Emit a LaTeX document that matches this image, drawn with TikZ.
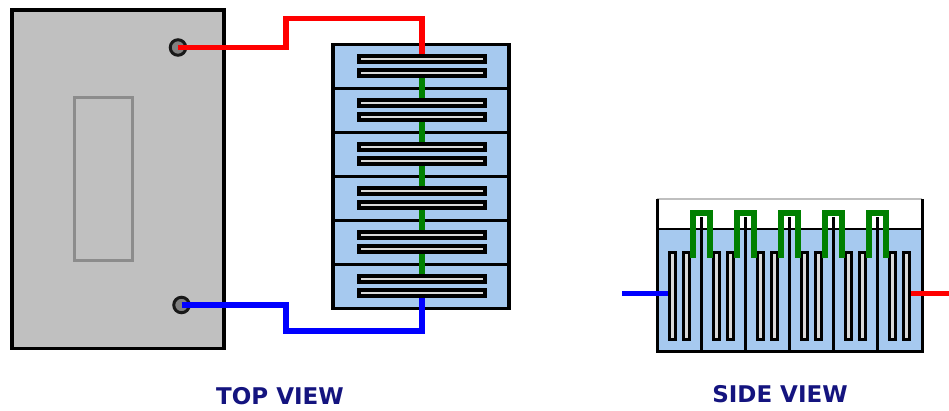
\documentclass[tikz,border=0pt]{standalone}
\usepackage{fontspec}
\setmainfont{DejaVu Sans}
\definecolor{water}{HTML}{A6C9EF}
\definecolor{panel}{HTML}{C0C0C0}
\definecolor{framegray}{HTML}{8C8C8C}
\definecolor{navy}{HTML}{14147F}
\definecolor{wiregreen}{HTML}{008000}
\begin{document}
\begin{tikzpicture}[x=1pt,y=-1pt,line join=miter,
  panelbox/.style={draw=black,line width=3.2pt,fill=panel,minimum width=212pt,minimum height=338.5pt,inner sep=0pt,outer sep=0pt},
  window/.style={draw=framegray,line width=3pt,fill=none,minimum width=58pt,minimum height=163pt,inner sep=0pt},
  terminal/.style={circle,draw=black!90,line width=3pt,fill=gray,minimum size=15.5pt,inner sep=0pt},
  cell/.style={draw=black,line width=3.1pt,fill=water,minimum width=176pt,minimum height=44pt,inner sep=0pt,outer sep=0pt},
  hbar/.style={draw=black,line width=3.8pt,fill=panel!60!white,minimum width=126pt,minimum height=6pt,inner sep=0pt,outer sep=2pt},
  vbar/.style={draw=black,line width=3.4pt,fill=panel!60!white,minimum width=5.6pt,minimum height=86.5pt,inner sep=0pt,outer sep=1.8pt},
  redwire/.style={draw=red,line width=5.6pt},
  bluewire/.style={draw=blue,line width=5.6pt},
  greenwire/.style={draw=wiregreen,line width=6pt},
  caption/.style={text=navy,font=\bfseries\fontsize{23}{23}\selectfont,inner sep=0pt}]
\useasboundingbox (0,0) rectangle (949,410);
\fill[white] (0,0) rectangle (949,410);
% top view
\node[panelbox] (panel) at (118,179.25) {};
\node[window] (win) at (103.5,178.5) {};
\node[terminal] (tr) at (178,47.5) {};
\node[terminal] (tb) at (181.5,305) {};
\foreach \i [evaluate=\i as \yc using 66.5+44*\i] in {0,...,5}{
  \node[cell] (c\i) at (421,\yc) {};
  \node[hbar] (a\i) at (422,\yc-7.5) {};
  \node[hbar] (b\i) at (422,\yc+6.5) {};
}
\coordinate (rA) at (286,47.5);
\coordinate (rB) at (286,18.5);
\coordinate (rC) at (422,18.5);
\draw[redwire] (tr.center) -- (rA) -- (rB) -- (rC) -- (a0.north -| rC);
\coordinate (bA) at (286,305);
\coordinate (bB) at (286,331);
\coordinate (bC) at (422,331);
\draw[bluewire] (tb.center) -- (bA) -- (bB) -- (bC) -- (b5.south -| bC);
\foreach \i/\j in {0/1,1/2,2/3,3/4,4/5}{
  \draw[greenwire] (b\i.south) -- (a\j.north);
}
% side view
\coordinate (tl) at (657,199);
\coordinate (tr2) at (922,199);
\coordinate (wl) at (657,229);
\coordinate (wr) at (922,229);
\coordinate (bl) at (657,351);
\coordinate (br) at (922,351);
\fill[water] (wl) rectangle (br);
\draw[gray!50,line width=1.4pt] (tl) -- (tr2);
\draw[black,line width=1.6pt] (wl) -- (wr);
\draw[black,line width=3pt] (tl) -- (bl) -- (br) -- (tr2);
\foreach \i in {0,...,4}{
  \pgfmathsetmacro{\xd}{701+44*\i}
  \coordinate (dt\i) at (\xd,217);
  \coordinate (db\i) at (\xd,351);
  \draw[black,line width=3pt] (dt\i) -- (db\i);
}
\foreach \i in {0,...,5}{
  \pgfmathsetmacro{\xp}{672.5+44*\i}
  \pgfmathsetmacro{\xq}{686.5+44*\i}
  \node[vbar] (p\i) at (\xp,296) {};
  \node[vbar] (q\i) at (\xq,296) {};
}
\foreach \i [evaluate=\i as \xl using 692.5+44*\i, evaluate=\i as \xr using 709.5+44*\i] in {0,...,4}{
  \coordinate (ua\i) at (\xl,258);
  \coordinate (ub\i) at (\xl,212.5);
  \coordinate (uc\i) at (\xr,212.5);
  \coordinate (ud\i) at (\xr,258);
  \draw[greenwire] (ua\i) -- (ub\i) -- (uc\i) -- (ud\i);
}
\coordinate (bluefree) at (622,293.5);
\coordinate (redfree) at (949,293.5);
\draw[bluewire] (bluefree) -- (p0.west |- bluefree);
\draw[redwire] (q5.east |- redfree) -- (redfree);
\node[caption] (topcap) at (280,396) {TOP VIEW};
\node[caption] (sidecap) at (780,394) {SIDE VIEW};
\end{tikzpicture}
\end{document}
